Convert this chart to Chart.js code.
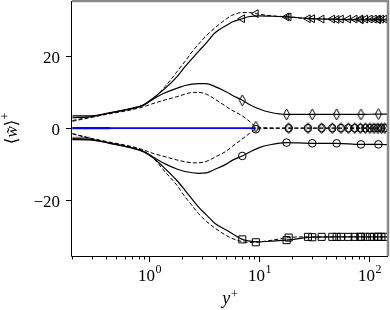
<!DOCTYPE html>
<html>
<head>
<meta charset="utf-8">
<script src="https://cdn.jsdelivr.net/npm/chart.js@4.4.0/dist/chart.umd.min.js"></script>
<style>
  html, body { margin: 0; padding: 0; background: #fff; }
  #wrap { width: 390px; height: 310px; position: relative; }
</style>
</head>
<body>
<div id="wrap"><canvas id="chart"></canvas></div>
<script>
// --- values (y+ on a log axis, <w>+ on the vertical) ---
const solidX = [0.2, 0.3, 0.44, 0.67, 0.88, 1.08, 1.39, 1.78, 2.11, 2.79, 3.3, 3.96, 5.05, 5.61, 7.0, 8.2, 10, 12.5, 17.7, 30.3, 50.5, 84, 121, 148];
const aSolid = [3.4, 3.4, 4.3, 5.4, 6.4, 8.3, 11.0, 14.2, 17.0, 21.2, 23.6, 26.4, 28.5, 29.3, 30.3, 30.9, 31.1, 31.0, 30.8, 30.3, 30.1, 30.0, 30.0, 30.0];
const bSolid = [2.9, 3.2, 4.2, 5.3, 6.3, 8.0, 9.8, 11.0, 11.8, 12.3, 12.3, 11.5, 10.0, 9.2, 7.7, 6.5, 5.3, 4.4, 3.8, 3.8, 3.8, 3.8, 3.9, 3.9];
const cSolid = [-2.9, -3.2, -4.2, -5.3, -6.4, -8.0, -9.9, -11.3, -12.0, -12.5, -12.4, -11.4, -9.9, -9.0, -7.7, -6.6, -5.4, -4.6, -4.0, -4.2, -4.2, -4.5, -4.5, -4.6];
const dSolid = [-3.2, -3.3, -4.2, -5.4, -6.5, -8.2, -11.2, -14.5, -17.2, -21.8, -24.0, -26.4, -28.3, -29.1, -30.8, -31.3, -31.5, -31.3, -31.0, -30.2, -30.1, -30.1, -30.1, -30.1];

const dashX = [0.2, 0.3, 0.44, 0.67, 0.88, 1.08, 1.39, 1.78, 2.11, 2.5, 2.79, 3.3, 3.96, 5.05, 5.61, 7.0, 8.2, 9.3, 12.0, 18.5, 27.7, 36.9, 46.1, 55.3, 64.5, 73.7, 82.9, 92.1, 101.3, 110.5, 119.7, 128.9, 138.1, 148];
const aDash = [2.1, 3.2, 4.2, 5.4, 6.4, 8.0, 11.5, 15.6, 18.5, 21.5, 23.2, 25.6, 27.8, 30.3, 31.2, 32.0, 32.0, 31.7, 31.2, 30.8, 30.3, 30.2, 30.2, 30.2, 30.2, 30.2, 30.2, 30.2, 30.2, 30.2, 30.2, 30.2, 30.2, 30.2];
const bDash = [1.9, 3.0, 4.0, 5.0, 5.9, 6.8, 7.8, 8.7, 9.4, 9.9, 9.9, 9.4, 8.0, 5.9, 5.0, 3.4, 1.8, 0.4, 0.1, 0, 0, 0, 0, 0, 0, 0, 0, 0, 0, 0, 0, 0, 0, 0];
const cDash = [-1.5, -2.9, -3.9, -5.0, -6.0, -7.0, -7.9, -8.8, -9.3, -9.6, -9.6, -9.2, -8.0, -6.3, -5.2, -3.0, -1.4, -0.3, -0.1, 0, 0, 0, 0, 0, 0, 0, 0, 0, 0, 0, 0, 0, 0, 0];
const dDash = [-1.6, -2.9, -4.0, -5.2, -6.3, -8.2, -12.1, -15.8, -19.0, -21.8, -23.6, -25.8, -27.7, -29.8, -30.5, -31.4, -31.7, -31.6, -31.2, -30.3, -30.1, -30.1, -30.1, -30.1, -30.1, -30.1, -30.1, -30.1, -30.1, -30.1, -30.1, -30.1, -30.1, -30.1];

// markers on the solid curves
const markSolidX = [7.0, 17.7, 30.3, 50.5, 84, 121];
const aSolidMark = [30.3, 30.8, 30.3, 30.1, 30.0, 30.0];
const bSolidMark = [7.7, 3.8, 3.8, 3.8, 3.8, 3.9];
const cSolidMark = [-7.7, -4.0, -4.2, -4.2, -4.5, -4.5];
const dSolidMark = [-30.8, -31.0, -30.2, -30.1, -30.1, -30.1];

// markers on the dashed curves
const markDashX = [9.3, 18.5, 27.7, 36.9, 46.1, 55.3, 64.5, 73.7, 82.9, 92.1, 101.3, 110.5, 119.7, 128.9, 138.1];
const aDashMark = [31.7, 30.8, 30.3, 30.2, 30.2, 30.2, 30.2, 30.2, 30.2, 30.2, 30.2, 30.2, 30.2, 30.2, 30.2];
const bDashMark = [0.4, 0, 0, 0, 0, 0, 0, 0, 0, 0, 0, 0, 0, 0, 0];
const cDashMark = [-0.3, 0, 0, 0, 0, 0, 0, 0, 0, 0, 0, 0, 0, 0, 0];
const dDashMark = [-31.6, -30.3, -30.1, -30.1, -30.1, -30.1, -30.1, -30.1, -30.1, -30.1, -30.1, -30.1, -30.1, -30.1, -30.1];

// blue zero line and the short grey piece at the wall
const blueX = [0.2, 9.3];
const blueY = [0, 0];
const blueShortX = [0.2, 0.44];
const blueShortY = [0, 0];
const greyX = [0.2, 0.29];
const greyY = [-2.85, -2.85];

// axes
const yTicks = [-20, 0, 20];
const xMajor = [1, 10, 100];
const xMajorExp = ['0', '1', '2'];
const xMinor = [0.2, 0.3, 0.4, 0.5, 0.6, 0.7, 0.8, 0.9, 2, 3, 4, 5, 6, 7, 8, 9, 20, 30, 40, 50, 60, 70, 80, 90];

const pts = (xs, ys) => xs.map((x, i) => ({ x: x, y: ys[i] }));

// thin diamond marker
function thinDiamond() {
    const c = document.createElement('canvas');
    c.width = 9; c.height = 13;
    const g = c.getContext('2d');
    g.strokeStyle = '#000';
    g.lineWidth = 1;
    g.beginPath();
    g.moveTo(4.5, 1); g.lineTo(7.6, 6.5); g.lineTo(4.5, 12); g.lineTo(1.4, 6.5);
    g.closePath();
    g.stroke();
    return c;
}
const diamond = thinDiamond();

function lineSet(xs, ys, dashed) {
    return {
        data: pts(xs, ys),
        borderColor: '#000',
        borderWidth: dashed ? 1 : 1.2,
        borderDash: dashed ? [4, 2.2] : [],
        pointRadius: 0,
        cubicInterpolationMode: 'monotone',
        fill: false,
        order: 2
    };
}
function markSet(xs, ys, style, radius, rotation) {
    return {
        data: pts(xs, ys),
        showLine: false,
        pointStyle: style,
        pointRadius: radius,
        pointRotation: rotation || 0,
        pointBorderColor: '#000',
        pointBackgroundColor: 'rgba(0,0,0,0)',
        pointBorderWidth: 1,
        order: 0
    };
}

const SERIF = '"Liberation Serif", "DejaVu Serif", serif';

const axesPlugin = {
    id: 'axesPlugin',
    afterDraw(chart) {
        const { ctx, chartArea: a, scales: { x, y } } = chart;
        ctx.save();
        // grey top/right frame
        ctx.strokeStyle = '#8a8a8a';
        ctx.lineWidth = 2.5;
        ctx.beginPath();
        ctx.moveTo(a.left, a.top);
        ctx.lineTo(a.right, a.top);
        ctx.lineTo(a.right, a.bottom);
        ctx.stroke();
        // black left/bottom spines
        ctx.strokeStyle = '#000';
        ctx.lineWidth = 1;
        ctx.beginPath();
        ctx.moveTo(a.left - 0.5, a.top);
        ctx.lineTo(a.left - 0.5, a.bottom + 0.5);
        ctx.lineTo(a.right, a.bottom + 0.5);
        ctx.stroke();

        // y ticks + labels
        ctx.fillStyle = '#000';
        ctx.font = '17px ' + SERIF;
        ctx.textAlign = 'right';
        ctx.textBaseline = 'alphabetic';
        yTicks.forEach(v => {
            const py = Math.round(y.getPixelForValue(v)) + 0.5;
            ctx.beginPath();
            ctx.moveTo(a.left - 6, py);
            ctx.lineTo(a.left, py);
            ctx.stroke();
            const lbl = v < 0 ? '\u2212' + Math.abs(v) : String(v);
            ctx.fillText(lbl, a.left - 12, py + 6);
        });

        // x ticks
        xMinor.forEach(v => {
            const px = Math.round(x.getPixelForValue(v)) + 0.5;
            ctx.beginPath();
            ctx.moveTo(px, a.bottom);
            ctx.lineTo(px, a.bottom + 3.5);
            ctx.stroke();
        });
        xMajor.forEach((v, i) => {
            const px = Math.round(x.getPixelForValue(v)) + 0.5;
            ctx.beginPath();
            ctx.moveTo(px, a.bottom);
            ctx.lineTo(px, a.bottom + 6);
            ctx.stroke();
            ctx.textAlign = 'left';
            ctx.font = '17px ' + SERIF;
            const w1 = ctx.measureText('10').width;
            ctx.font = '12px ' + SERIF;
            const w2 = ctx.measureText(xMajorExp[i]).width;
            const x0 = px - (w1 + w2) / 2;
            ctx.font = '17px ' + SERIF;
            ctx.fillText('10', x0, 281);
            ctx.font = '12px ' + SERIF;
            ctx.fillText(xMajorExp[i], x0 + w1 + 0.5, 273);
        });

        // x title  y+
        ctx.font = 'italic 18px ' + SERIF;
        const wy = ctx.measureText('y').width;
        ctx.font = '13px ' + SERIF;
        const wp = ctx.measureText('+').width;
        const cx = (a.left + a.right) / 2;
        ctx.textAlign = 'left';
        ctx.font = 'italic 18px ' + SERIF;
        ctx.fillText('y', cx - (wy + wp) / 2, 304);
        ctx.font = '13px ' + SERIF;
        ctx.fillText('+', cx - (wy + wp) / 2 + wy + 0.5, 298);

        // y title  <w~>+
        ctx.translate(17, (a.top + a.bottom) / 2);
        ctx.rotate(-Math.PI / 2);
        const parts = [
            { t: '\u27E8', f: '17px ' + SERIF, dy: 0 },
            { t: 'w\u0303', f: 'italic 17px ' + SERIF, dy: 0 },
            { t: '\u27E9', f: '17px ' + SERIF, dy: 0 },
            { t: '+', f: '12px ' + SERIF, dy: -8 }
        ];
        let tot = 0;
        parts.forEach(p => { ctx.font = p.f; p.w = ctx.measureText(p.t).width; tot += p.w; });
        let xx = -tot / 2;
        parts.forEach(p => { ctx.font = p.f; ctx.fillText(p.t, xx, p.dy); xx += p.w; });
        ctx.restore();
    }
};

new Chart(document.getElementById('chart'), {
    type: 'line',
    data: {
        datasets: [
            markSet(markSolidX, aSolidMark, 'triangle', 4.5, -90),
            markSet(markDashX, aDashMark, 'triangle', 4.5, -90),
            markSet(markSolidX, bSolidMark, diamond, 5),
            markSet(markDashX, bDashMark, diamond, 5),
            markSet(markSolidX, cSolidMark, 'circle', 3.8),
            markSet(markDashX, cDashMark, 'circle', 3.8),
            markSet(markSolidX, dSolidMark, 'rect', 5),
            markSet(markDashX, dDashMark, 'rect', 5),
            lineSet(solidX, aSolid, false),
            lineSet(solidX, bSolid, false),
            lineSet(solidX, cSolid, false),
            lineSet(solidX, dSolid, false),
            lineSet(dashX, aDash, true),
            lineSet(dashX, bDash, true),
            lineSet(dashX, cDash, true),
            lineSet(dashX, dDash, true),
            { data: pts(blueX, blueY), borderColor: '#0000ff', borderWidth: 1.8, pointRadius: 0, order: 3 },
            { data: pts(blueShortX, blueShortY), borderColor: '#0000ff', borderWidth: 2.4, pointRadius: 0, order: 3 },
            { data: pts(greyX, greyY), borderColor: '#808080', borderWidth: 3.4, pointRadius: 0, order: 4 }
        ]
    },
    options: {
        responsive: true,
        maintainAspectRatio: false,
        animation: false,
        devicePixelRatio: 1,
        layout: { autoPadding: false, padding: { left: 72, right: 2, top: 1, bottom: 54 } },
        plugins: { legend: { display: false }, tooltip: { enabled: false } },
        scales: {
            x: { type: 'logarithmic', min: 0.198, max: 148, display: false },
            y: { type: 'linear', min: -35.4, max: 35.2, display: false }
        }
    },
    plugins: [axesPlugin]
});
</script>
</body>
</html>
